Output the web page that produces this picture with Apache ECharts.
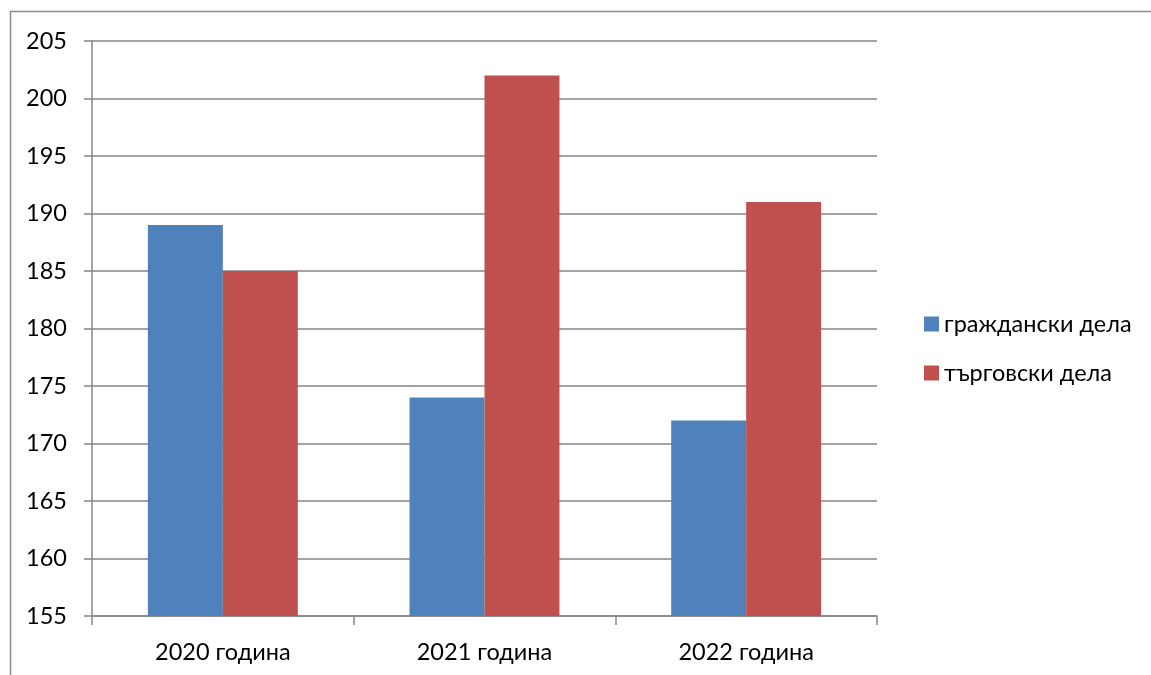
<!DOCTYPE html>
<html><head><meta charset="utf-8">
<script src="https://cdn.jsdelivr.net/npm/echarts@6/dist/echarts.min.js"></script>
<style>html,body{margin:0;padding:0;background:#fff}#c{width:1151px;height:675px}</style>
</head><body><div id="c"></div>
<script>
const categories = ['2020 година', '2021 година', '2022 година'];
const civilCases = [189, 174, 172];
const commercialCases = [185, 202, 191];
const seriesNames = ['граждански дела', 'търговски дела'];

const chart = echarts.init(document.getElementById('c'));
const font = 'Lato';
chart.setOption({
  animation: false,
  textStyle: { fontFamily: font, fontSize: 23 },
  graphic: [{
    type: 'rect', shape: { x: 10.5, y: 11.5, width: 1200, height: 700 },
    style: { fill: 'none', stroke: '#8c8c8c', lineWidth: 1.5 }
  }],
  grid: { left: 92, right: 274, top: 41, bottom: 59, containLabel: false },
  legend: {
    orient: 'vertical', left: 919, top: 307, itemGap: 25,
    itemWidth: 15, itemHeight: 15, icon: 'rect',
    textStyle: { fontSize: 23.5, color: '#000', fontFamily: font },
    data: seriesNames
  },
  xAxis: {
    type: 'category', data: categories,
    axisLine: { lineStyle: { color: '#868686', width: 1.5 } },
    axisTick: { show: true, length: 9, alignWithLabel: false, lineStyle: { color: '#868686', width: 1.5 } },
    axisLabel: { fontSize: 23.5, color: '#000', margin: 24, fontFamily: font }
  },
  yAxis: {
    type: 'value', min: 155, max: 205, interval: 5,
    axisLine: { show: true, lineStyle: { color: '#868686', width: 1.5 } },
    axisTick: { show: true, length: 8, lineStyle: { color: '#868686', width: 1.5 } },
    splitLine: { lineStyle: { color: '#868686', width: 1.5 } },
    axisLabel: { fontSize: 23.5, color: '#000', margin: 25, fontFamily: font }
  },
  series: [
    { name: seriesNames[0], type: 'bar', data: civilCases, barGap: '0%', barCategoryGap: '42.7%', itemStyle: { color: '#4F81BD' } },
    { name: seriesNames[1], type: 'bar', data: commercialCases, barGap: '0%', barCategoryGap: '42.7%', itemStyle: { color: '#C0504D' } }
  ]
});
</script></body></html>
